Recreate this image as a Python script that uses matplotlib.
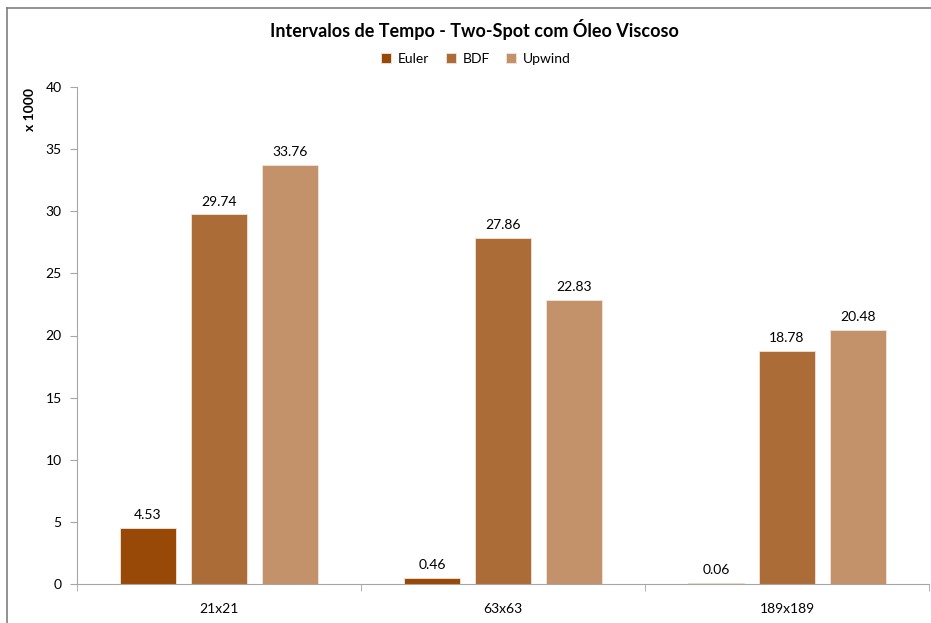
import numpy as np
import matplotlib.pyplot as plt
from matplotlib.lines import Line2D

# dados do gráfico
categorias = ['21x21', '63x63', '189x189']
euler = [4.53, 0.46, 0.06]
bdf = [29.74, 27.86, 18.78]
upwind = [33.76, 22.83, 20.48]
series = ['Euler', 'BDF', 'Upwind']
cores = ['#984807', '#AB6C38', '#C3916A']

plt.rcParams['font.family'] = ['Lato', 'DejaVu Sans']

fig = plt.figure(figsize=(9.31, 6.23), dpi=100)
ax = fig.add_axes([77/931, 1-584/623, 852/931, 497/623])

x = np.arange(len(categorias))
larg = 0.2
for i, (nome, vals) in enumerate(zip(series, [euler, bdf, upwind])):
    pos = x + (i-1)*0.25
    ax.bar(pos, vals, width=larg, color=cores[i], label=nome,
           edgecolor='#F2E6DA', linewidth=0.6)
    for p, v in zip(pos, vals):
        ax.annotate(f'{v:.2f}', (p, v), xytext=(0, 5), textcoords='offset points',
                    ha='center', va='bottom', fontsize=10, color='black')

ax.set_xlim(-0.5, 2.5)
ax.set_ylim(0, 40)
ax.set_yticks(np.arange(0, 41, 5))
ax.set_xticks(x)
ax.set_xticklabels(categorias)
ax.set_xticks([-0.5, 0.5, 1.5, 2.5], minor=True)
ax.tick_params(axis='x', which='major', length=0, pad=14, labelsize=10)
ax.tick_params(axis='x', which='minor', length=5, color='#A6A6A6')
ax.tick_params(axis='y', length=5, color='#A6A6A6', labelsize=10, pad=6)
for s in ['top', 'right']:
    ax.spines[s].set_visible(False)
for s in ['left', 'bottom']:
    ax.spines[s].set_color('#A6A6A6')

fig.text(474/931, 1-30/623, 'Intervalos de Tempo - Two-Spot com Óleo Viscoso',
         ha='center', va='center', fontsize=13, fontweight='bold')
fig.text(30/931, 1-88/623, 'x 1000', rotation=90, ha='center', va='top',
         fontsize=10, fontweight='bold')

fig.legend(loc='center', bbox_to_anchor=(476/931, 1-59/623), ncol=3, frameon=False,
           fontsize=10, handlelength=0.7, handleheight=0.7, columnspacing=1.2,
           handletextpad=0.5)

# moldura parcial do gráfico
fig.add_artist(Line2D([7/931, 7/931], [0, 1-8/623], color='#7F7F7F', lw=1.2))
fig.add_artist(Line2D([7/931, 1], [1-8/623, 1-8/623], color='#7F7F7F', lw=1.2))

fig.savefig('out.png', dpi=100)
